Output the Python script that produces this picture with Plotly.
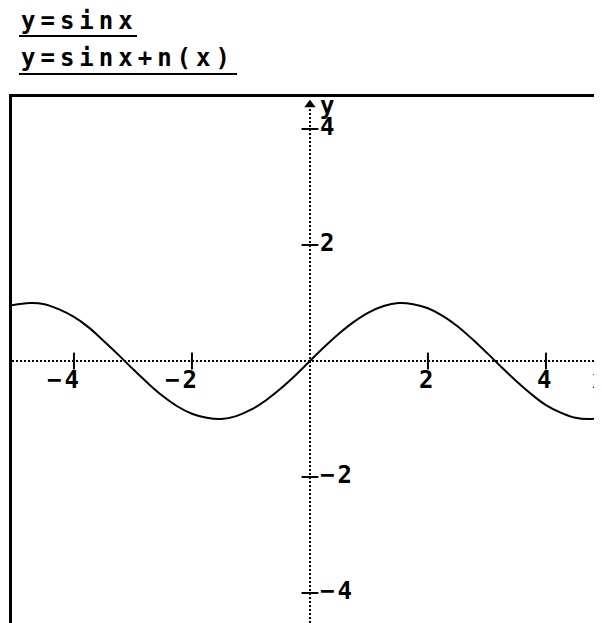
import plotly.graph_objects as go

# Curve y = sin x + n(x)
x_vals = [-5.05, -4.75, -4.5, -4.25, -4.0, -3.75, -3.5, -3.25, -3.0, -2.75, -2.5,
          -2.25, -2.0, -1.75, -1.5, -1.25, -1.0, -0.75, -0.5, -0.25, 0.0,
          0.25, 0.5, 0.75, 1.0, 1.25, 1.5, 1.75, 2.0, 2.25, 2.5,
          2.75, 3.0, 3.25, 3.5, 3.75, 4.0, 4.25, 4.5, 4.75, 4.95]
y_vals = [0.96, 1.0, 0.98, 0.89, 0.76, 0.58, 0.35, 0.11, -0.14, -0.38, -0.60,
          -0.78, -0.91, -0.98, -1.0, -0.95, -0.84, -0.68, -0.48, -0.25, 0.0,
          0.25, 0.48, 0.68, 0.84, 0.95, 1.0, 0.98, 0.91, 0.78, 0.60,
          0.38, 0.14, -0.11, -0.35, -0.57, -0.76, -0.89, -0.98, -1.0, -0.97]

x_ticks = [-4, -2, 2, 4]
x_tick_labels = ["−4", "−2", "2", "4"]
y_ticks = [4, 2, -2, -4]
y_tick_labels = ["4", "2", "−2", "−4"]
legend_labels = ["y=sinx", "y=sinx+n(x)"]

OFF = 8  # default page body margin
W, H = 602 - OFF, 623 - OFF
ML, MT = 12 - OFF, 97 - OFF
PW, PH = W - ML, H - MT
X_RANGE = [-5.05, 4.95]
Y_RANGE = [-4.517, 4.552]
FONT = "DejaVu Sans Mono"


def px(p):
    return (p - OFF - ML) / PW


def py(p):
    return 1 - (p - OFF - MT) / PH


def sp(t, ls=5):
    return f'<span style="letter-spacing:{ls}px"><b>{t}</b></span>'


fig = go.Figure()

fig.add_trace(go.Scatter(x=x_vals, y=y_vals, mode="lines",
                         line=dict(color="black", width=2, shape="spline"),
                         showlegend=False, hoverinfo="skip"))

# tick marks on the axes
fig.add_trace(go.Scatter(x=x_ticks, y=[0] * len(x_ticks), mode="markers",
                         marker=dict(symbol="line-ns", size=12,
                                     line=dict(color="black", width=2)),
                         showlegend=False, hoverinfo="skip"))
fig.add_trace(go.Scatter(x=[0] * len(y_ticks), y=y_ticks, mode="markers",
                         marker=dict(symbol="line-ew", size=12,
                                     line=dict(color="black", width=2)),
                         showlegend=False, hoverinfo="skip"))
# arrow heads
fig.add_trace(go.Scatter(x=[0], y=[4.42], mode="markers",
                         marker=dict(symbol="triangle-up", size=10, color="black"),
                         showlegend=False, hoverinfo="skip"))
fig.add_trace(go.Scatter(x=[4.9], y=[0], mode="markers",
                         marker=dict(symbol="triangle-right", size=10, color="black"),
                         showlegend=False, hoverinfo="skip", cliponaxis=False))

shapes = []
# dotted axes
shapes.append(dict(type="line", xref="x", yref="y", x0=X_RANGE[0], x1=X_RANGE[1], y0=0, y1=0,
                   line=dict(color="black", width=2, dash="2px,2px"), layer="below"))
shapes.append(dict(type="line", xref="x", yref="y", x0=0, x1=0, y0=Y_RANGE[0], y1=4.4,
                   line=dict(color="black", width=2, dash="2px,2px"), layer="below"))
# frame
shapes.append(dict(type="rect", xref="paper", yref="paper", x0=px(9), x1=px(12),
                   y0=0, y1=py(94), fillcolor="black", line=dict(width=0)))
shapes.append(dict(type="rect", xref="paper", yref="paper", x0=px(9), x1=1,
                   y0=py(97), y1=py(94), fillcolor="black", line=dict(width=0)))
# legend underlines
shapes.append(dict(type="rect", xref="paper", yref="paper", x0=px(19), x1=px(137),
                   y0=py(37), y1=py(35), fillcolor="black", line=dict(width=0)))
shapes.append(dict(type="rect", xref="paper", yref="paper", x0=px(19), x1=px(237),
                   y0=py(75), y1=py(73), fillcolor="black", line=dict(width=0)))

annotations = []
for t, yc in zip(legend_labels, [21, 58]):
    annotations.append(dict(text=sp(t, 5), xref="paper", yref="paper", x=px(19), y=py(yc),
                            xanchor="left", yanchor="middle", showarrow=False,
                            font=dict(family=FONT, size=24, color="black")))
for v, t in zip(x_ticks, x_tick_labels):
    annotations.append(dict(text=sp(t, 3), x=v, y=0, xanchor="right", yanchor="middle",
                            xshift=10, yshift=-19, showarrow=False,
                            font=dict(family=FONT, size=24, color="black")))
for v, t in zip(y_ticks, y_tick_labels):
    annotations.append(dict(text=sp(t, 3), x=0, y=v, xanchor="left", yanchor="middle",
                            xshift=8, yshift=2, showarrow=False,
                            font=dict(family=FONT, size=24, color="black")))
annotations.append(dict(text=sp("y", 3), x=0, y=0, xanchor="left", yanchor="middle",
                        xshift=8, yshift=361 - 106, showarrow=False,
                        font=dict(family=FONT, size=24, color="black")))
annotations.append(dict(text=sp("x", 3), x=0, y=0, xanchor="left", yanchor="middle",
                        xshift=590 - 310, yshift=-19, showarrow=False,
                        font=dict(family=FONT, size=24, color="black")))

fig.update_layout(
    width=W, height=H,
    margin=dict(l=ML, r=0, t=MT, b=0),
    paper_bgcolor="white", plot_bgcolor="white",
    xaxis=dict(range=X_RANGE, visible=False, fixedrange=True),
    yaxis=dict(range=Y_RANGE, visible=False, fixedrange=True),
    shapes=shapes, annotations=annotations,
    showlegend=False,
)

fig.write_html("out.html")
